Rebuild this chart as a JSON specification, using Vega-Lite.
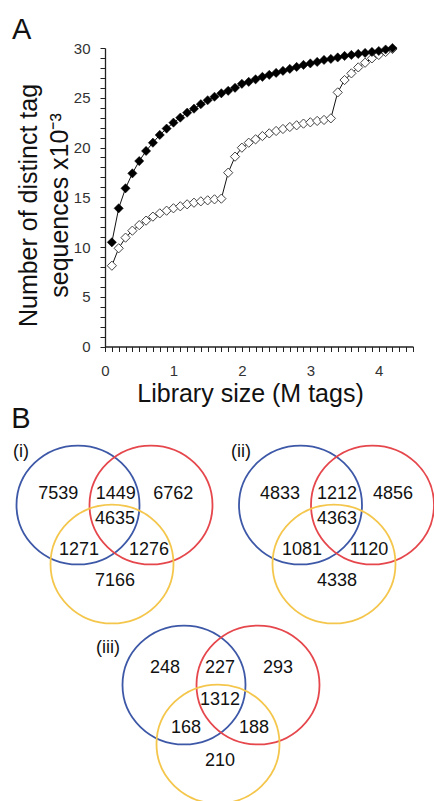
{
  "$schema": "https://vega.github.io/schema/vega-lite/v6.json",
  "width": 434,
  "height": 801,
  "autosize": {"type": "none"},
  "padding": 0,
  "background": "white",
  "config": {"view": {"stroke": null}, "font": "Liberation Sans", "text": {"font": "Liberation Sans"}},
  "datasets": {
    "curves": [
      {"size": 0.1, "curve": "upper", "tags": 10.47}, {"size": 0.2, "curve": "upper", "tags": 13.89}, {"size": 0.3, "curve": "upper", "tags": 15.9}, {"size": 0.4, "curve": "upper", "tags": 17.4}, {"size": 0.5, "curve": "upper", "tags": 18.64}, {"size": 0.6, "curve": "upper", "tags": 19.65}, {"size": 0.7, "curve": "upper", "tags": 20.48}, {"size": 0.8, "curve": "upper", "tags": 21.26}, {"size": 0.9, "curve": "upper", "tags": 21.9}, {"size": 1.0, "curve": "upper", "tags": 22.5},
      {"size": 1.1, "curve": "upper", "tags": 23.0}, {"size": 1.2, "curve": "upper", "tags": 23.5}, {"size": 1.3, "curve": "upper", "tags": 23.9}, {"size": 1.4, "curve": "upper", "tags": 24.35}, {"size": 1.5, "curve": "upper", "tags": 24.75}, {"size": 1.6, "curve": "upper", "tags": 25.1}, {"size": 1.7, "curve": "upper", "tags": 25.45}, {"size": 1.8, "curve": "upper", "tags": 25.7}, {"size": 1.9, "curve": "upper", "tags": 26.0}, {"size": 2.0, "curve": "upper", "tags": 26.4},
      {"size": 2.1, "curve": "upper", "tags": 26.6}, {"size": 2.2, "curve": "upper", "tags": 26.85}, {"size": 2.3, "curve": "upper", "tags": 27.1}, {"size": 2.4, "curve": "upper", "tags": 27.3}, {"size": 2.5, "curve": "upper", "tags": 27.5}, {"size": 2.6, "curve": "upper", "tags": 27.7}, {"size": 2.7, "curve": "upper", "tags": 27.9}, {"size": 2.8, "curve": "upper", "tags": 28.1}, {"size": 2.9, "curve": "upper", "tags": 28.3}, {"size": 3.0, "curve": "upper", "tags": 28.45},
      {"size": 3.1, "curve": "upper", "tags": 28.6}, {"size": 3.2, "curve": "upper", "tags": 28.8}, {"size": 3.3, "curve": "upper", "tags": 28.9}, {"size": 3.4, "curve": "upper", "tags": 29.05}, {"size": 3.5, "curve": "upper", "tags": 29.2}, {"size": 3.6, "curve": "upper", "tags": 29.3}, {"size": 3.7, "curve": "upper", "tags": 29.4}, {"size": 3.8, "curve": "upper", "tags": 29.5}, {"size": 3.9, "curve": "upper", "tags": 29.6}, {"size": 4.0, "curve": "upper", "tags": 29.7},
      {"size": 4.1, "curve": "upper", "tags": 29.85}, {"size": 4.2, "curve": "upper", "tags": 30.0},
      {"size": 0.1, "curve": "lower", "tags": 8.12}, {"size": 0.2, "curve": "lower", "tags": 9.87}, {"size": 0.3, "curve": "lower", "tags": 10.94}, {"size": 0.4, "curve": "lower", "tags": 11.64}, {"size": 0.5, "curve": "lower", "tags": 12.2}, {"size": 0.6, "curve": "lower", "tags": 12.65}, {"size": 0.7, "curve": "lower", "tags": 13.05}, {"size": 0.8, "curve": "lower", "tags": 13.38}, {"size": 0.9, "curve": "lower", "tags": 13.65}, {"size": 1.0, "curve": "lower", "tags": 13.89},
      {"size": 1.1, "curve": "lower", "tags": 14.09}, {"size": 1.2, "curve": "lower", "tags": 14.29}, {"size": 1.3, "curve": "lower", "tags": 14.45}, {"size": 1.4, "curve": "lower", "tags": 14.59}, {"size": 1.5, "curve": "lower", "tags": 14.69}, {"size": 1.6, "curve": "lower", "tags": 14.79}, {"size": 1.7, "curve": "lower", "tags": 14.86}, {"size": 1.8, "curve": "lower", "tags": 17.47}, {"size": 1.9, "curve": "lower", "tags": 19.08}, {"size": 2.0, "curve": "lower", "tags": 19.98},
      {"size": 2.1, "curve": "lower", "tags": 20.48}, {"size": 2.2, "curve": "lower", "tags": 20.82}, {"size": 2.3, "curve": "lower", "tags": 21.15}, {"size": 2.4, "curve": "lower", "tags": 21.42}, {"size": 2.5, "curve": "lower", "tags": 21.66}, {"size": 2.6, "curve": "lower", "tags": 21.86}, {"size": 2.7, "curve": "lower", "tags": 22.06}, {"size": 2.8, "curve": "lower", "tags": 22.23}, {"size": 2.9, "curve": "lower", "tags": 22.4}, {"size": 3.0, "curve": "lower", "tags": 22.53},
      {"size": 3.1, "curve": "lower", "tags": 22.67}, {"size": 3.2, "curve": "lower", "tags": 22.77}, {"size": 3.3, "curve": "lower", "tags": 22.93}, {"size": 3.4, "curve": "lower", "tags": 25.54}, {"size": 3.5, "curve": "lower", "tags": 26.78}, {"size": 3.6, "curve": "lower", "tags": 27.45}, {"size": 3.7, "curve": "lower", "tags": 28.05}, {"size": 3.8, "curve": "lower", "tags": 28.52}, {"size": 3.9, "curve": "lower", "tags": 28.96}, {"size": 4.0, "curve": "lower", "tags": 29.3},
      {"size": 4.1, "curve": "lower", "tags": 29.6}, {"size": 4.2, "curve": "lower", "tags": 29.9}
    ],
    "circles": [
      {"venn": "i", "set": "S1", "cx": 7.8, "cy": 50.5}, {"venn": "i", "set": "S2", "cx": 15.1, "cy": 50.5}, {"venn": "i", "set": "S3", "cx": 11.2, "cy": 56.4},
      {"venn": "ii", "set": "S1", "cx": 30.05, "cy": 50.5}, {"venn": "ii", "set": "S2", "cx": 37.25, "cy": 50.5}, {"venn": "ii", "set": "S3", "cx": 33.4, "cy": 56.4},
      {"venn": "iii", "set": "S1", "cx": 18.4, "cy": 68.5}, {"venn": "iii", "set": "S2", "cx": 25.8, "cy": 68.5}, {"venn": "iii", "set": "S3", "cx": 21.8, "cy": 74.4}
    ],
    "counts": [
      {"venn": "i", "label": "7539", "cx": 5.83, "cy": 49.4}, {"venn": "i", "label": "1449", "cx": 11.57, "cy": 49.4}, {"venn": "i", "label": "6762", "cx": 17.33, "cy": 49.4}, {"venn": "i", "label": "4635", "cx": 11.5, "cy": 51.9}, {"venn": "i", "label": "1271", "cx": 7.9, "cy": 55.0}, {"venn": "i", "label": "1276", "cx": 14.9, "cy": 55.0}, {"venn": "i", "label": "7166", "cx": 11.5, "cy": 58.1},
      {"venn": "ii", "label": "4833", "cx": 28.0, "cy": 49.4}, {"venn": "ii", "label": "1212", "cx": 33.7, "cy": 49.4}, {"venn": "ii", "label": "4856", "cx": 39.3, "cy": 49.4}, {"venn": "ii", "label": "4363", "cx": 33.7, "cy": 51.9}, {"venn": "ii", "label": "1081", "cx": 30.2, "cy": 55.0}, {"venn": "ii", "label": "1120", "cx": 36.9, "cy": 55.0}, {"venn": "ii", "label": "4338", "cx": 33.7, "cy": 58.1},
      {"venn": "iii", "label": "248", "cx": 16.5, "cy": 66.8}, {"venn": "iii", "label": "227", "cx": 22.0, "cy": 66.8}, {"venn": "iii", "label": "293", "cx": 27.8, "cy": 66.8}, {"venn": "iii", "label": "1312", "cx": 22.0, "cy": 70.0}, {"venn": "iii", "label": "168", "cx": 18.6, "cy": 72.8}, {"venn": "iii", "label": "188", "cx": 25.4, "cy": 72.8}, {"venn": "iii", "label": "210", "cx": 22.0, "cy": 76.1},
      {"venn": "i", "label": "(i)", "cx": 2.1, "cy": 45.2}, {"venn": "ii", "label": "(ii)", "cx": 24.1, "cy": 45.2}, {"venn": "iii", "label": "(iii)", "cx": 10.8, "cy": 64.8}
    ],
    "panels": [
      {"label": "A", "cx": 2.17, "cy": 3.0},
      {"label": "B", "cx": 2.1, "cy": 41.85}
    ]
  },
  "layer": [
    {
      "data": {"name": "curves"},
      "encoding": {
        "x": {
          "field": "size", "type": "quantitative",
          "scale": {"domain": [0, 4.5], "range": [105, 413], "nice": false, "zero": false},
          "axis": {
            "offset": -454.5,
            "values": [0, 0.1, 0.2, 0.3, 0.4, 0.5, 0.6, 0.7, 0.8, 0.9, 1, 1.1, 1.2, 1.3, 1.4, 1.5, 1.6, 1.7, 1.8, 1.9, 2, 2.1, 2.2, 2.3, 2.4, 2.5, 2.6, 2.7, 2.8, 2.9, 3, 3.1, 3.2, 3.3, 3.4, 3.5, 3.6, 3.7, 3.8, 3.9, 4, 4.1, 4.2, 4.3, 4.4, 4.5],
            "labelExpr": "datum.value == round(datum.value) ? format(datum.value, 'd') : ''",
            "labelOverlap": false, "labelFlush": false, "labelBound": false,
            "grid": false, "tickSize": 5, "tickColor": "#222", "tickWidth": 1,
            "domainColor": "#222", "domainWidth": 1.3,
            "labelFontSize": 15, "labelColor": "#333", "labelPadding": 12,
            "title": "Library size (M tags)", "titleFontSize": 25, "titleFontWeight": "normal", "titleColor": "#111",
            "titleX": 250, "titleY": 55, "titleBaseline": "alphabetic", "titleAlign": "center"
          }
        },
        "y": {
          "field": "tags", "type": "quantitative",
          "scale": {"domain": [0, 30], "range": [346.5, 48], "nice": false, "zero": false},
          "axis": {
            "offset": -105,
            "values": [0, 1, 2, 3, 4, 5, 6, 7, 8, 9, 10, 11, 12, 13, 14, 15, 16, 17, 18, 19, 20, 21, 22, 23, 24, 25, 26, 27, 28, 29, 30],
            "labelExpr": "datum.value % 5 == 0 ? datum.label : ''",
            "labelOverlap": false, "labelFlush": false, "labelBound": false,
            "grid": false, "tickSize": 5, "tickColor": "#222", "tickWidth": 1,
            "domainColor": "#222", "domainWidth": 1.3,
            "labelFontSize": 15, "labelColor": "#333", "labelPadding": 10,
            "title": ["Number of distinct tag", "sequences x10⁻³"], "titleFontSize": 25, "titleFontWeight": "normal", "titleColor": "#111",
            "titleLineHeight": 31, "titleAngle": -90, "titleBaseline": "bottom", "titleAlign": "center",
            "titleX": -64, "titleY": 205
          }
        }
      },
      "layer": [
        {
          "mark": {"type": "line", "color": "#111", "strokeWidth": 1},
          "encoding": {"detail": {"field": "curve"}}
        },
        {
          "transform": [{"filter": "datum.curve == 'lower'"}],
          "mark": {"type": "point", "shape": "diamond", "filled": true, "fill": "white", "stroke": "#444", "strokeWidth": 1, "size": 85, "opacity": 1}
        },
        {
          "transform": [{"filter": "datum.curve == 'upper'"}],
          "mark": {"type": "point", "shape": "diamond", "filled": true, "fill": "#000", "stroke": "#000", "strokeWidth": 0.5, "size": 85, "opacity": 1}
        }
      ]
    },
    {
      "encoding": {
        "x": {"field": "cx", "type": "quantitative", "scale": {"domain": [0, 43.4], "range": [0, 434], "nice": false, "zero": false}, "axis": null},
        "y": {"field": "cy", "type": "quantitative", "scale": {"domain": [0, 80.1], "range": [0, 801], "nice": false, "zero": false}, "axis": null}
      },
      "layer": [
        {
          "data": {"name": "circles"},
          "mark": {
            "type": "point",
            "shape": "M -1 0 C -1 -0.534 -0.5523 -0.967 0 -0.967 C 0.5523 -0.967 1 -0.534 1 0 C 1 0.534 0.5523 0.967 0 0.967 C -0.5523 0.967 -1 0.534 -1 0 Z",
            "filled": false, "size": 15129, "strokeWidth": 1.8, "opacity": 1
          },
          "encoding": {
            "stroke": {"field": "set", "type": "nominal", "scale": {"domain": ["S1", "S2", "S3"], "range": ["#3d58a7", "#e5474c", "#f4c64c"]}, "legend": null}
          }
        },
        {
          "data": {"name": "counts"},
          "mark": {"type": "text", "fontSize": 18, "color": "#111", "align": "center", "baseline": "middle", "font": "Liberation Sans"},
          "encoding": {"text": {"field": "label"}}
        },
        {
          "data": {"name": "panels"},
          "mark": {"type": "text", "fontSize": 29, "color": "#111", "align": "center", "baseline": "middle", "font": "Liberation Sans"},
          "encoding": {"text": {"field": "label"}}
        }
      ]
    }
  ],
  "resolve": {"scale": {"x": "independent", "y": "independent", "stroke": "independent"}, "axis": {"x": "independent", "y": "independent"}}
}
